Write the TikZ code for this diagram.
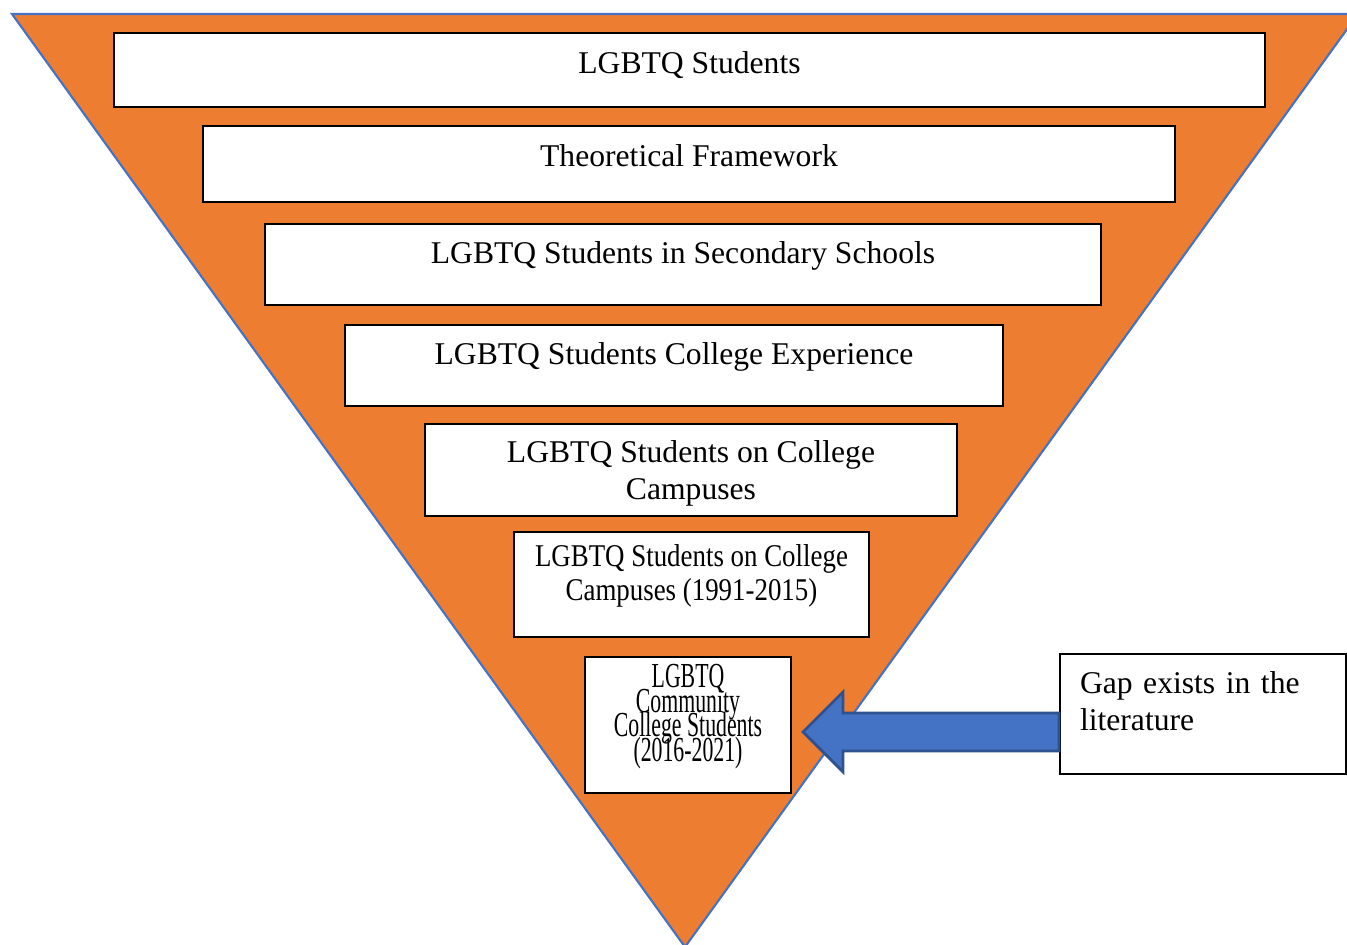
\documentclass[tikz,border=0pt]{standalone}
\usepackage{fontspec}
\setmainfont{Liberation Serif}
\newfontfamily\narrowA[FakeStretch=0.85]{Liberation Serif}
\newfontfamily\narrowB[FakeStretch=0.62]{Liberation Serif}
\newcommand\tightlines{\lineskiplimit=-10pt\relax}
\usetikzlibrary{calc}
\definecolor{funnel}{HTML}{ED7D31}
\definecolor{edge}{HTML}{4472C4}
\definecolor{arrowline}{HTML}{2F528F}
\tikzset{
  box/.style={draw=black,fill=white,line width=0.6pt,align=center,inner sep=0pt,
    font=\fontsize{9}{10.5}\selectfont},
  lift/.style={text depth=#1}
}

\begin{document}
\begin{tikzpicture}
\useasboundingbox
  (0,0) rectangle (13.47,-9.45);
\clip
  (0,0) rectangle (13.47,-9.45);
\coordinate (L) at (0.12,-0.14);
\coordinate (R) at (13.58,-0.14);
\coordinate (V) at (6.85,-9.47);
\filldraw[fill=funnel,draw=edge,line width=0.6pt]
  (L) -- (R) -- (V) -- cycle;

\node[box,lift=4pt,minimum width=11.51cm,minimum height=0.74cm] (students) at (6.895,-0.70) {LGBTQ Students};
\node[box,lift=4.6pt,minimum width=9.72cm,minimum height=0.76cm] (theory) at (6.89,-1.64) {Theoretical Framework};
\node[box,lift=7pt,minimum width=8.36cm,minimum height=0.81cm] (secondary) at (6.83,-2.645) {LGBTQ Students in Secondary Schools};
\node[box,lift=6.6pt,minimum width=6.58cm,minimum height=0.81cm] (experience) at (6.74,-3.655) {LGBTQ Students College Experience};
\node[box,lift=0pt,minimum width=5.32cm,minimum height=0.92cm] (campus) at (6.91,-4.70) {LGBTQ Students on College\\Campuses};
\node[box,lift=6.8pt,minimum width=3.55cm,minimum height=1.05cm,
  font=\fontsize{9}{9.4}\selectfont\narrowA] (early) at (6.915,-5.845) {LGBTQ Students on College\\Campuses (1991-2015)};
\node[box,lift=6.8pt,minimum width=2.06cm,minimum height=1.36cm,
  font=\fontsize{10}{7}\selectfont\narrowB\tightlines] (recent) at (6.88,-7.25) {LGBTQ\\Community\\College Students\\(2016-2021)};

\node[box,lift=18pt,align=left,inner xsep=0.2cm,text width=2.46cm,minimum height=1.20cm] (gap) at (12.03,-7.14) {Gap exists in the\\literature};

\coordinate (tip) at (8.03,-7.32);
\coordinate (tail) at (gap.west |- tip);
\filldraw[fill=edge,draw=arrowline,line width=0.8pt]
  (tip) -- ($(tip)+(0.40,0.40)$) -- ($(tip)+(0.40,0.19)$) -- ($(tail)+(0,0.19)$)
  -- ($(tail)+(0,-0.19)$) -- ($(tip)+(0.40,-0.19)$) -- ($(tip)+(0.40,-0.40)$) -- cycle;
\end{tikzpicture}
\end{document}
